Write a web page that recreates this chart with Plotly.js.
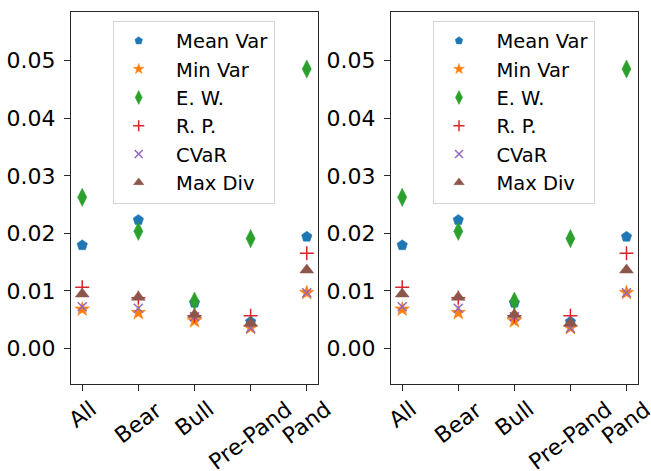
<!DOCTYPE html>
<html>
<head>
<meta charset="utf-8">
<script src="https://cdn.plot.ly/plotly-3.0.1.min.js"></script>
<style>
html,body{margin:0;padding:0;background:#fff;}
#chart{width:651px;height:471px;}
</style>
</head>
<body>
<div id="chart"></div>
<script>
// ---- data ----
const categories = ["All", "Bear", "Bull", "Pre-Pand", "Pand"];
const seriesNames = ["Mean Var", "Min Var", "E. W.", "R. P.", "CVaR", "Max Div"];
const meanVar = [0.01793, 0.02232, 0.00796, 0.00466, 0.01942];
const minVar  = [0.00681, 0.00622, 0.00478, 0.00361, 0.00969];
const eqW     = [0.02627, 0.02036, 0.00825, 0.01910, 0.04856];
const riskPar = [0.01063, 0.00880, 0.00570, 0.00570, 0.01654];
const cvar    = [0.00726, 0.00698, 0.00552, 0.00351, 0.00969];
const maxDiv  = [0.00947, 0.00890, 0.00587, 0.00438, 0.01364];
const yTicks = [0, 0.01, 0.02, 0.03, 0.04, 0.05];
const yTickText = ["0.00", "0.01", "0.02", "0.03", "0.04", "0.05"];

const seriesValues = [meanVar, minVar, eqW, riskPar, cvar, maxDiv];

// ---- styles ----
const colors = ["#1f77b4", "#ff7f0e", "#2ca02c", "#d62728", "#9467bd", "#8c564b"];
const symbols = ["pentagon", "star", "diamond-tall", "cross-thin", "x-thin", "triangle-up"];
const sizes = [11, 11, 13, 10, 9, 12];
const legSizes = [8, 8, 10, 8, 8, 9];
const FONT = "DejaVu Sans, Liberation Sans, sans-serif";
const PAD = "\u00A0\u00A0";

function markerFor(i, size) {
  const thin = symbols[i].indexOf("thin") >= 0;
  return {
    symbol: symbols[i],
    size: size,
    color: colors[i],
    line: thin ? {color: colors[i], width: 1.5} : {color: colors[i], width: 0.5}
  };
}

const traces = [];
const panels = [{xa: "x", ya: "y", leg: "legend"}, {xa: "x2", ya: "y2", leg: "legend2"}];
panels.forEach(p => {
  seriesValues.forEach((vals, i) => {
    traces.push({
      type: "scatter", mode: "markers",
      x: categories, y: vals,
      xaxis: p.xa, yaxis: p.ya,
      name: seriesNames[i],
      marker: markerFor(i, sizes[i]),
      showlegend: false, cliponaxis: false,
      hoverinfo: "x+y+name"
    });
  });
  seriesValues.forEach((vals, i) => {
    traces.push({
      type: "scatter", mode: "markers",
      x: [null], y: [null],
      xaxis: p.xa, yaxis: p.ya,
      name: PAD + seriesNames[i],
      marker: markerFor(i, legSizes[i]),
      showlegend: true, legend: p.leg
    });
  });
});

const W = 651, H = 471;
const dom1 = [71 / W, 318 / W];
const dom2 = [391 / W, 637.7 / W];
const ydom = [1 - 384.3 / H, 1 - 12 / H];

function xaxis(dom, anchor) {
  return {
    domain: dom, anchor: anchor, type: "category",
    categoryorder: "array", categoryarray: categories,
    range: [-0.2, 4.2],
    showline: true, mirror: true, linecolor: "#262626", linewidth: 1.3,
    ticks: "outside", ticklen: 6, tickwidth: 1.3, tickcolor: "#262626",
    showticklabels: false, showgrid: false, zeroline: false, fixedrange: true
  };
}
function yaxis(anchor) {
  return {
    domain: ydom, anchor: anchor,
    range: [-0.00622, 0.05846],
    tickmode: "array", tickvals: yTicks, ticktext: yTickText,
    showline: true, mirror: true, linecolor: "#262626", linewidth: 1.3,
    ticks: "outside", ticklen: 6, tickwidth: 1.3, tickcolor: "#262626",
    ticklabelstandoff: 4,
    tickfont: {family: FONT, size: 22, color: "#000"},
    showgrid: false, zeroline: false, fixedrange: true
  };
}
function legend(xpx) {
  return {
    x: xpx / W, y: 1 - 20.5 / H, xanchor: "left", yanchor: "top",
    bgcolor: "rgba(255,255,255,0.8)", bordercolor: "#d4d4d4", borderwidth: 1,
    font: {family: FONT, size: 19.5, color: "#000"},
    itemwidth: 40, tracegroupgap: 0, itemclick: false, itemdoubleclick: false
  };
}

const annotations = [];
["x", "x2"].forEach(xr => {
  categories.forEach(c => {
    annotations.push({
      xref: xr, yref: "paper", x: c, y: 1 - 395 / H,
      text: c, showarrow: false, textangle: -37,
      xanchor: "center", yanchor: "top", borderpad: 0,
      font: {family: FONT, size: 22, color: "#000"}
    });
  });
});

const layout = {
  width: W, height: H,
  margin: {l: 0, r: 0, t: 0, b: 0},
  paper_bgcolor: "#fff", plot_bgcolor: "#fff",
  xaxis: xaxis(dom1, "y"), yaxis: yaxis("x"),
  xaxis2: xaxis(dom2, "y2"), yaxis2: yaxis("x2"),
  legend: legend(112.7), legend2: legend(433),
  annotations: annotations,
  font: {family: FONT, color: "#000"}
};

Plotly.newPlot("chart", traces, layout, {displayModeBar: false});
</script>
</body>
</html>
